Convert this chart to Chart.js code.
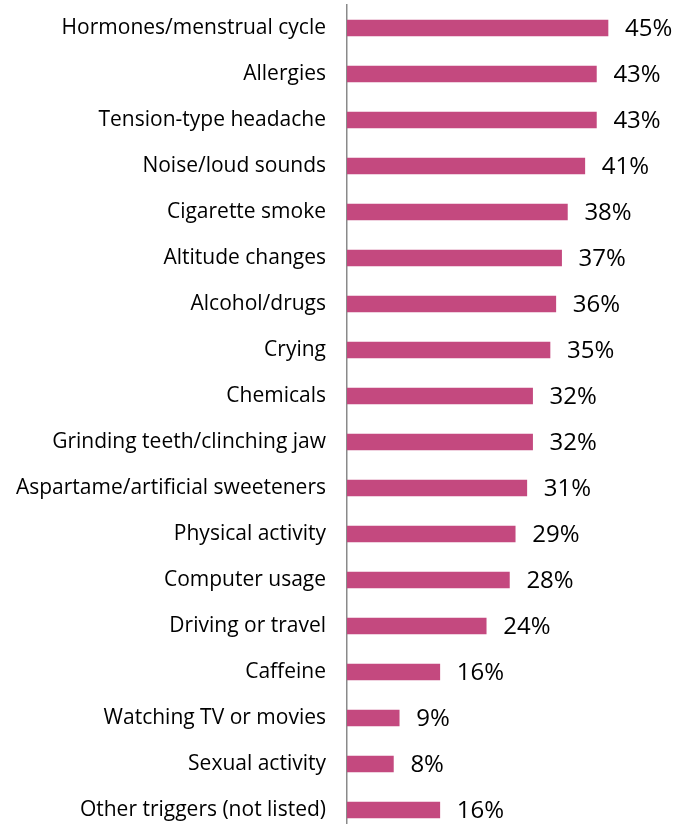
<!DOCTYPE html>
<html>
<head>
<meta charset="utf-8">
<script src="https://cdn.jsdelivr.net/npm/chart.js@4.4.1/dist/chart.umd.min.js"></script>
<style>
  html, body { margin: 0; padding: 0; background: #fff; overflow: hidden; }
  #wrap { width: 677px; height: 834px; }
</style>
</head>
<body>
<div id="wrap"><canvas id="chart-triggers"></canvas></div>
<script>
const triggers = [
  'Hormones/menstrual cycle', 'Allergies', 'Tension-type headache', 'Noise/loud sounds',
  'Cigarette smoke', 'Altitude changes', 'Alcohol/drugs', 'Crying', 'Chemicals',
  'Grinding teeth/clinching jaw', 'Aspartame/artificial sweeteners', 'Physical activity',
  'Computer usage', 'Driving or travel', 'Caffeine', 'Watching TV or movies',
  'Sexual activity', 'Other triggers (not listed)'
];
const percents = [45, 43, 43, 41, 38, 37, 36, 35, 32, 32, 31, 29, 28, 24, 16, 9, 8, 16];

const barColor = '#C4497F';

// writes "NN%" just past the end of each bar
const valueLabels = {
  id: 'valueLabels',
  afterDatasetsDraw(chart) {
    const ctx = chart.ctx;
    const meta = chart.getDatasetMeta(0);
    ctx.save();
    ctx.font = '24px "Open Sans"';
    ctx.fillStyle = '#000';
    ctx.textAlign = 'left';
    ctx.textBaseline = 'middle';
    meta.data.forEach((bar, i) => {
      ctx.fillText(percents[i] + '%', bar.x + 17, bar.y + 1);
    });
    ctx.restore();
  }
};

new Chart(document.getElementById('chart-triggers'), {
  type: 'bar',
  data: {
    labels: triggers,
    datasets: [{
      data: percents,
      backgroundColor: barColor,
      barThickness: 16
    }]
  },
  options: {
    indexAxis: 'y',
    responsive: true,
    maintainAspectRatio: false,
    animation: false,
    layout: { padding: { top: 5, right: 40, bottom: 1, left: 0 } },
    scales: {
      x: {
        display: false,
        min: 0,
        max: 50
      },
      y: {
        afterFit(scale) {
          scale.width = 347;
          scale.paddingTop = 0;
          scale.paddingBottom = 0;
        },
        grid: { display: false, drawTicks: false },
        border: { display: true, color: '#8a8a8a', width: 1.5 },
        ticks: {
          autoSkip: false,
          padding: 21,
          color: '#000',
          font: { family: 'Open Sans', size: 21 }
        }
      }
    },
    plugins: {
      legend: { display: false },
      tooltip: { enabled: false }
    }
  },
  plugins: [valueLabels]
});
</script>
</body>
</html>
